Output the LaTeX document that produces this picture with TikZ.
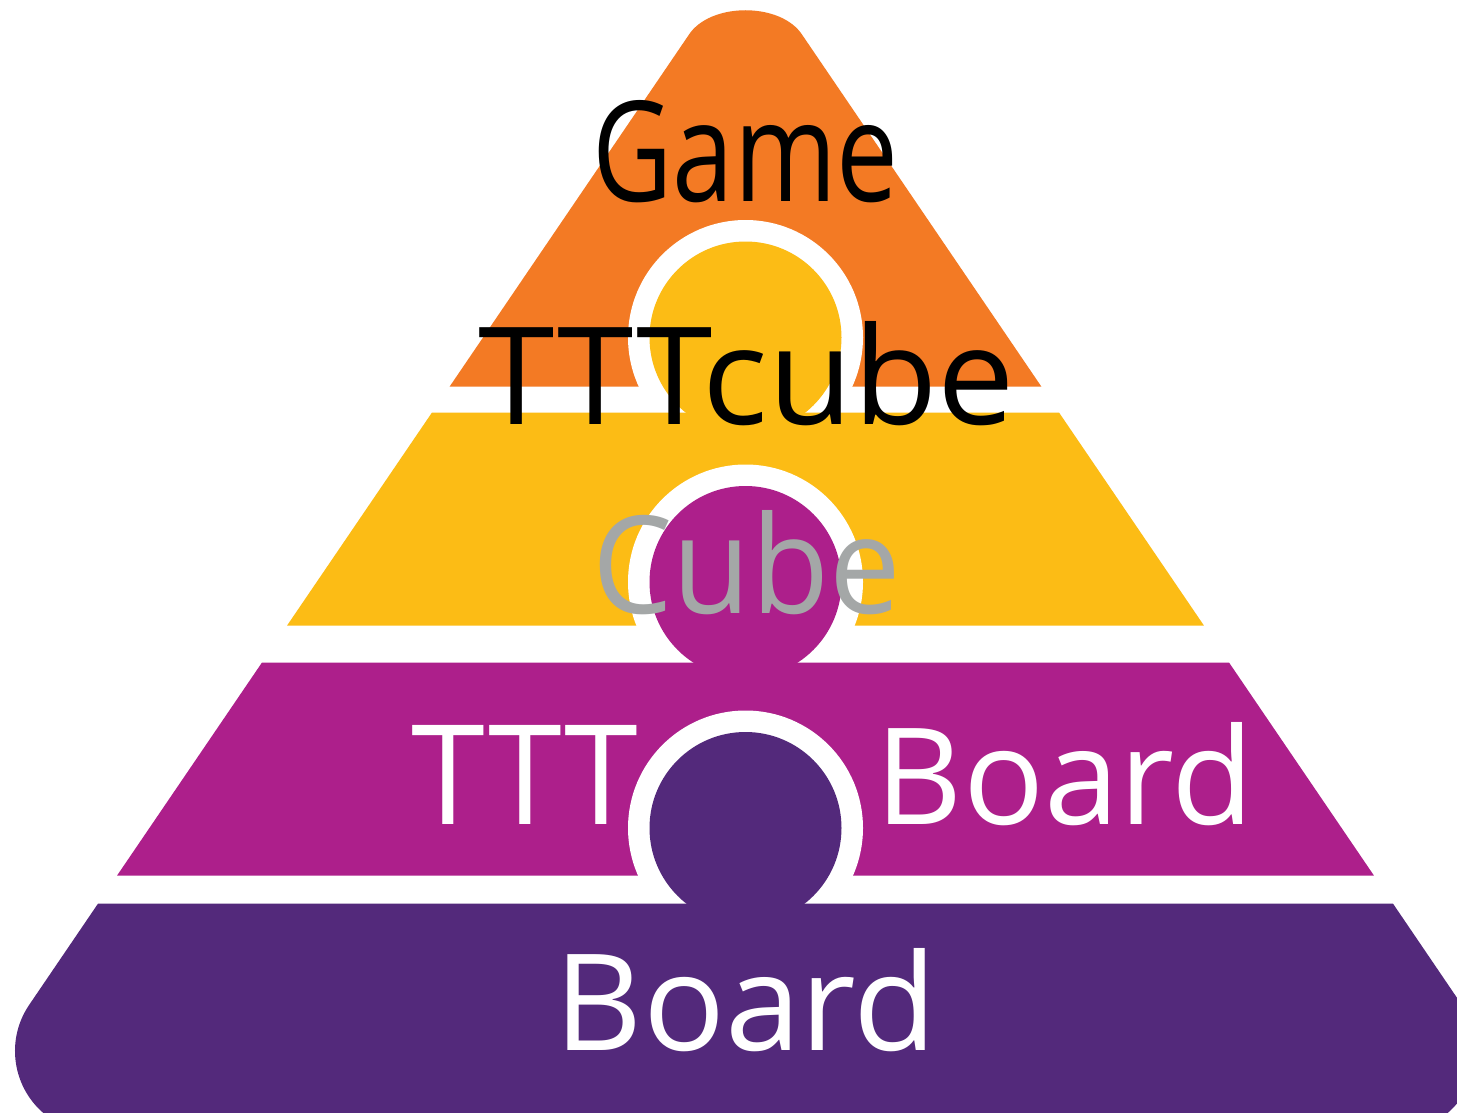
\documentclass[tikz,border=0pt]{standalone}
\usepackage{fontspec}
\setmainfont{Open Sans}
\usepackage{graphicx}
\definecolor{cOrange}{HTML}{F37A24}
\definecolor{cYellow}{HTML}{FCBC15}
\definecolor{cMagenta}{HTML}{AD1F8B}
\definecolor{cPurple}{HTML}{53297B}
\definecolor{cGray}{HTML}{A4A7A7}
\tikzset{
  lbl/.style={anchor=base, inner sep=0pt, outer sep=0pt},
  ring/.style={fill=white},
}
\begin{document}
\begin{tikzpicture}[x=1pt,y=-1pt]
\useasboundingbox (0,0) rectangle (1457,1113);
\fill[white] (0,0) rectangle (1457,1113);
\clip (0,0) rectangle (1457,1113);
% orange layer
\fill[cOrange] (688.7,35) .. controls (710,2) and (781,2) .. (802.3,35)
  -- (1041.3,386.5) -- (449.7,386.5) -- cycle;
% white ring 1
\fill[ring] (745.5,337.5) circle (117.5);
% yellow layer
\fill[cYellow] (432.0,412.5) -- (1059.0,412.5) -- (1203.9,625.5) -- (287.1,625.5) -- cycle;
% white ring 2
\fill[ring] (745.5,582) circle (117.5);
% magenta layer
\fill[cMagenta] (262.0,662.5) -- (1229.0,662.5) -- (1373.9,875.5) -- (117.1,875.5) -- cycle;
% white ring 3
\fill[ring] (745.5,828) circle (117.5);
% purple layer
\fill[cPurple] (98.1,903.5) -- (29.1,1005) arc[start angle=214.1, end angle=90, radius=82]
  -- (1394,1133) arc[start angle=90, end angle=-34.1, radius=82]
  -- (1392.9,903.5) -- cycle;
% inner disks
\fill[cYellow] (745.5,337.5) circle (96);
\fill[cMagenta] (745.5,582) circle (96);
\fill[cPurple] (745.5,828) circle (96);
% labels
\node[lbl, text=black] (game) at (745.5,201) {\resizebox{306pt}{101pt}{Game}};
\node[lbl, text=black] (tttcube) at (746.5,424) {\resizebox{536pt}{103pt}{TTTcube}};
\node[lbl, text=cGray] (cube) at (746.5,613) {\resizebox{308pt}{103pt}{Cube}};
\node[lbl, text=white] (ttt) at (525,824) {\resizebox{226pt}{99pt}{TTT}};
\node[lbl, text=white] (board1) at (1065,824) {\resizebox{378pt}{102pt}{Board}};
\node[lbl, text=white] (board2) at (746,1050) {\resizebox{382pt}{102pt}{Board}};
\end{tikzpicture}
\end{document}
